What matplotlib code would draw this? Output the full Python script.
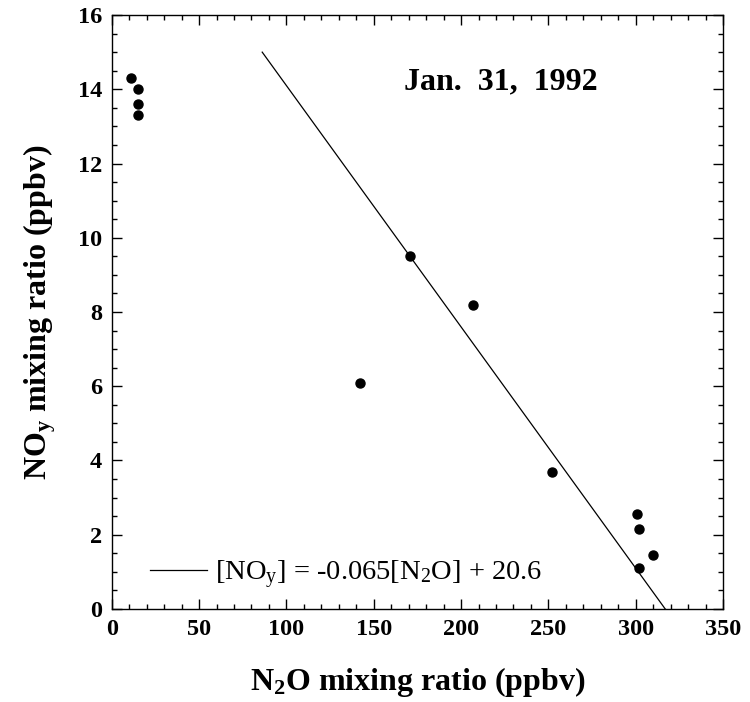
import numpy as np
import matplotlib
matplotlib.use('Agg')
import matplotlib.pyplot as plt
from matplotlib.ticker import MultipleLocator

plt.rcParams['font.family'] = 'Liberation Serif'
plt.rcParams['mathtext.fontset'] = 'custom'
plt.rcParams['mathtext.rm'] = 'Liberation Serif'
plt.rcParams['mathtext.bf'] = 'Liberation Serif:bold'
plt.rcParams['mathtext.it'] = 'Liberation Serif:italic'

# Mõõdetud punktid (N2O vs NOy)
n2o = [11, 15, 15, 15, 142, 171, 207, 252, 301, 302, 302, 310]
noy = [14.3, 14.0, 13.6, 13.3, 6.1, 9.5, 8.2, 3.7, 2.55, 2.15, 1.1, 1.45]

# Regressioonisirge
slope = -0.065
intercept = 20.6
fit_y = np.array([15.0, 0.0])
fit_x = (fit_y - intercept) / slope

fig = plt.figure(figsize=(7.5, 7.02), dpi=100)
ax = fig.add_axes([0.149, 0.1325, 0.815, 0.8461])

ax.plot(fit_x, fit_y, color='black', lw=0.9,
        label=r'[NO$_\mathrm{y}$] = -0.065[N$_\mathrm{2}$O] + 20.6')
ax.plot(n2o, noy, 'o', color='black', ms=6.5, ls='none')

ax.set_xlim(0, 350)
ax.set_ylim(0, 16)
ax.xaxis.set_major_locator(MultipleLocator(50))
ax.xaxis.set_minor_locator(MultipleLocator(10))
ax.yaxis.set_major_locator(MultipleLocator(2))
ax.yaxis.set_minor_locator(MultipleLocator(0.5))
ax.tick_params(which='both', direction='in', top=True, right=True, width=1)
ax.tick_params(which='major', length=7, labelsize=17.5, pad=7)
ax.tick_params(which='minor', length=3.5)
for lab in ax.get_xticklabels() + ax.get_yticklabels():
    lab.set_fontweight('bold')
for sp in ax.spines.values():
    sp.set_linewidth(1.0)

ax.set_xlabel(r'N$_\mathbf{2}$O mixing ratio (ppbv)', fontsize=23,
              fontweight='bold', labelpad=18)
ax.set_ylabel(r'NO$_\mathbf{y}$ mixing ratio (ppbv)', fontsize=23,
              fontweight='bold', labelpad=14)

ax.text(223, 14.2, 'Jan.  31,  1992', fontsize=23, fontweight='bold',
        ha='center', va='center')

ax.legend(loc='lower left', bbox_to_anchor=(0.062, 0.03), frameon=False,
          fontsize=20.5, handlelength=2.0, handletextpad=0.3,
          borderpad=0, borderaxespad=0)

fig.savefig('out.png', dpi=100)
